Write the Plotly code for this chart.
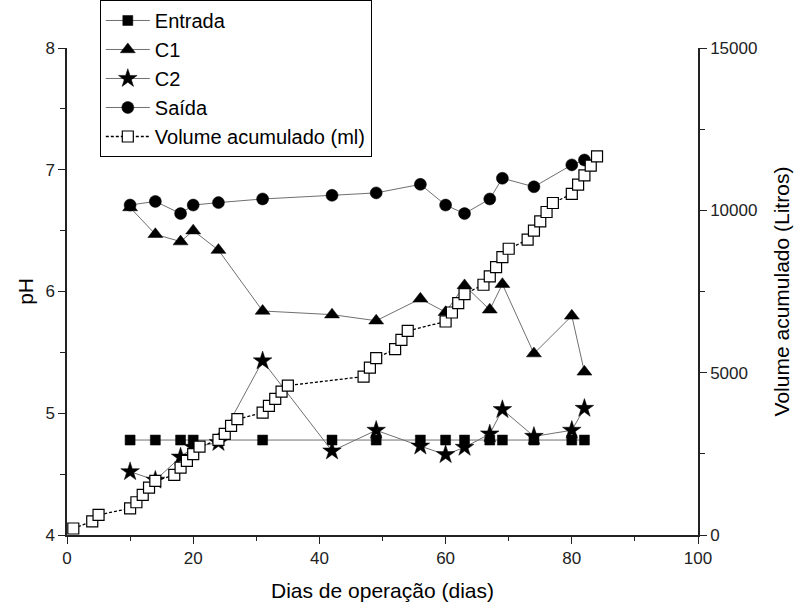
import plotly.graph_objects as go

# ---- data ----
days_entrada = [10, 14, 18, 20, 31, 42, 49, 56, 60, 63, 67, 69, 74, 80, 82]
ph_entrada = [4.78] * len(days_entrada)

days_c = [10, 14, 18, 20, 24, 31, 42, 49, 56, 60, 63, 67, 69, 74, 80, 82]
ph_c1 = [6.69, 6.47, 6.41, 6.50, 6.34, 5.84, 5.81, 5.76, 5.94, 5.83, 6.05, 5.85, 6.06, 5.49, 5.80, 5.34]
ph_c2 = [4.52, 4.45, 4.64, 4.72, 4.76, 5.43, 4.69, 4.86, 4.73, 4.66, 4.72, 4.83, 5.03, 4.81, 4.86, 5.04]
ph_saida = [6.71, 6.74, 6.64, 6.71, 6.73, 6.76, 6.79, 6.81, 6.88, 6.71, 6.64, 6.76, 6.93, 6.86, 7.04, 7.08]

days_vol = [1, 4, 5, 10, 11, 12, 13, 14, 17, 18, 19, 20, 21, 24, 25, 26, 27,
            31, 32, 33, 34, 35, 47, 48, 49, 52, 53, 54, 60, 61, 62, 63,
            66, 67, 68, 69, 70, 73, 74, 75, 76, 77, 80, 81, 82, 83, 84]
vol = [200, 420, 617, 823, 1008, 1233, 1458, 1665, 1850, 2075, 2281, 2488, 2722,
       2929, 3114, 3360, 3567, 3770, 3977, 4193, 4418, 4603, 4880, 5158, 5448,
       5725, 6012, 6289, 6576, 6853, 7143, 7421, 7708, 7963, 8253, 8561, 8817,
       9095, 9372, 9659, 9949, 10226, 10504, 10791, 11077, 11376, 11663]

FONT = "Liberation Sans, Arial, sans-serif"
LINE_GRAY = "#707070"

fig = go.Figure()

def add_series(x, y, name, symbol, size):
    fig.add_trace(go.Scatter(
        x=x, y=y, name=name, mode="lines+markers",
        line=dict(color=LINE_GRAY, width=1),
        marker=dict(symbol=symbol, size=size, color="black",
                    line=dict(color="black", width=0.5)),
    ))

add_series(days_entrada, ph_entrada, "Entrada", "square", 10)
add_series(days_c, ph_c1, "C1", "triangle-up", 13)
add_series(days_c, ph_c2, "C2", "star", 14)
add_series(days_c, ph_saida, "Saída", "circle", 12)

fig.add_trace(go.Scatter(
    x=days_vol, y=vol, name="Volume acumulado (ml)", mode="lines+markers",
    yaxis="y2",
    line=dict(color="black", width=1.3, dash="3px,2px"),
    marker=dict(symbol="square", size=11, color="white",
                line=dict(color="black", width=1.2)),
))

axis_common = dict(
    showgrid=False, zeroline=False, showline=True, linecolor="#222",
    linewidth=1.5, ticks="outside", ticklen=7, tickwidth=1.2, tickcolor="#222",
    tickfont=dict(family=FONT, size=17, color="#222"),
)

fig.update_layout(
    width=799, height=610,
    margin=dict(l=67, r=101, t=48, b=75, autoexpand=False),
    paper_bgcolor="white", plot_bgcolor="white",
    font=dict(family=FONT, color="black"),
    showlegend=True,
    legend=dict(
        x=0.052, y=1.0986, xanchor="left", yanchor="top",
        bgcolor="white", bordercolor="black", borderwidth=1,
        font=dict(family=FONT, size=20, color="black"),
        tracegroupgap=0, itemwidth=44,
    ),
    xaxis=dict(
        range=[0, 100], dtick=20, tick0=0,
        minor=dict(dtick=10, ticks="outside", ticklen=4, tickcolor="#222"),
        title=dict(text="Dias de operação (dias)", standoff=16,
                   font=dict(family=FONT, size=21, color="black")),
        **axis_common,
    ),
    yaxis=dict(
        range=[4, 8], dtick=1, tick0=4,
        minor=dict(dtick=0.5, ticks="outside", ticklen=5, tickcolor="#222"),
        **axis_common,
    ),
    yaxis2=dict(
        range=[0, 15000], dtick=5000, tick0=0, overlaying="y", side="right",
        tickformat="d",
        minor=dict(dtick=2500, ticks="outside", ticklen=5, tickcolor="#222"),
        title=dict(text="Volume acumulado (Litros)", standoff=18,
                   font=dict(family=FONT, size=21, color="black")),
        **axis_common,
    ),
    annotations=[dict(
        text="pH", xref="paper", yref="paper", x=-0.066, y=0.5,
        xanchor="center", yanchor="middle", textangle=-90, showarrow=False,
        font=dict(family=FONT, size=21, color="black"),
    )],
)

fig.write_html("out.html")
